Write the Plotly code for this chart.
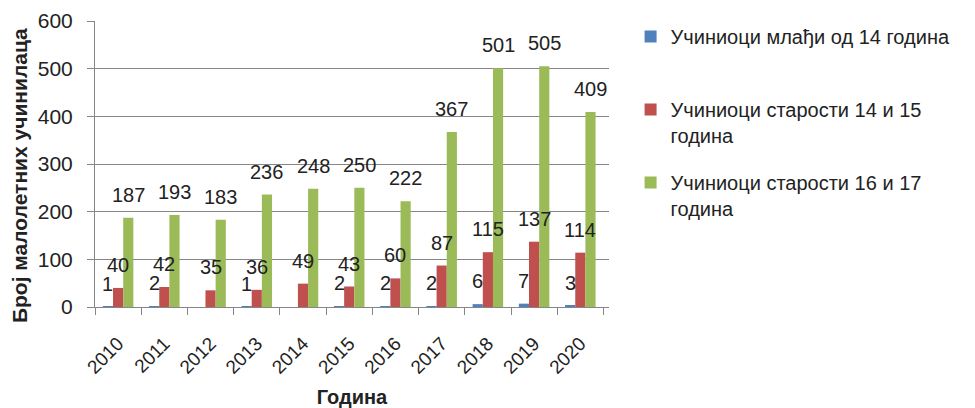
import plotly.graph_objects as go

years = ["2010", "2011", "2012", "2013", "2014", "2015", "2016", "2017", "2018", "2019", "2020"]
under14 = [1, 2, None, 1, None, 2, 2, 2, 6, 7, 3]
age14_15 = [40, 42, 35, 36, 49, 43, 60, 87, 115, 137, 114]
age16_17 = [187, 193, 183, 236, 248, 250, 222, 367, 501, 505, 409]

names = ["Учиниоци млађи од 14 година<br> ",
         "Учиниоци старости 14 и 15<br>година",
         "Учиниоци старости 16 и 17<br>година"]
colors = ["#4F81BD", "#C0504D", "#9BBB59"]
series = [under14, age14_15, age16_17]

FONT = "Liberation Sans"
BARGAP = 0.34

fig = go.Figure()
for k, (nm, col, vals) in enumerate(zip(names, colors, series)):
    fig.add_trace(go.Bar(
        x=years, y=[v if v is not None else 0 for v in vals], name=nm,
        marker=dict(color=col, line=dict(width=0)),
        legendgroup=f"g{k}",
    ))

# data labels placed above each bar (outside end)
w = (1 - BARGAP) / 3
annotations = []
for k, vals in enumerate(series):
    for i, v in enumerate(vals):
        if v is None:
            continue
        annotations.append(dict(
            x=i + (k - 1) * w, y=v, xref="x", yref="y",
            text=str(v), showarrow=False, yanchor="middle", yshift=23,
            font=dict(family=FONT, size=20, color="#222222"),
        ))

# page body has an 8px default margin, so the figure is 8px smaller
fig.update_layout(
    width=967, height=400,
    paper_bgcolor="white", plot_bgcolor="white",
    margin=dict(l=87, r=366, t=13, b=101, autoexpand=False),
    barmode="group", bargap=BARGAP, bargroupgap=0,
    font=dict(family=FONT, size=18, color="#222222"),
    annotations=annotations,
    showlegend=True,
    legend=dict(
        x=1.042, y=1.014, xanchor="left", yanchor="top",
        font=dict(family=FONT, size=20, color="#222222"),
        tracegroupgap=18, valign="top", itemwidth=30,
        bgcolor="rgba(0,0,0,0)", maxheight=400,
    ),
)

fig.update_xaxes(
    type="category",
    showline=True, linecolor="#868686", linewidth=1,
    ticks="outside", ticklen=7, tickcolor="#868686", tickson="boundaries",
    tickangle=-45, ticklabelstandoff=17,
    tickfont=dict(family=FONT, size=19, color="#222222"),
    title=dict(text="<b>Година</b>", font=dict(family=FONT, size=20, color="#222222"), standoff=14),
    showgrid=False,
)
fig.update_yaxes(
    range=[0, 600], dtick=100,
    showline=True, linecolor="#868686", linewidth=1,
    ticks="outside", ticklen=7, tickcolor="#868686", ticklabelstandoff=10,
    showgrid=True, gridcolor="#868686", gridwidth=1,
    tickfont=dict(family=FONT, size=21, color="#222222"),
    title=dict(text="<b>Број малолетних учинилаца</b>&nbsp;&nbsp;&nbsp;&nbsp;",
               font=dict(family=FONT, size=21, color="#222222"), standoff=8),
    zeroline=False,
)

fig.write_html("out.html")
